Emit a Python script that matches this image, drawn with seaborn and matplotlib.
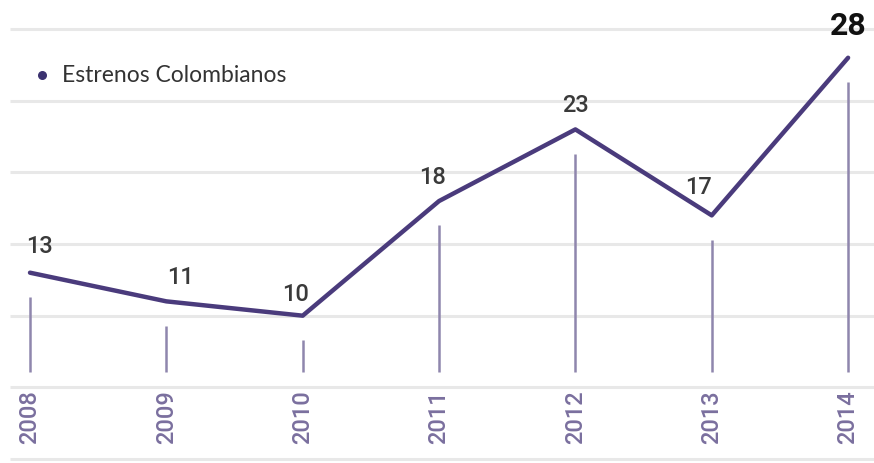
import matplotlib
matplotlib.use("Agg")
import matplotlib.pyplot as plt
import seaborn as sns
import pandas as pd

years = [2008, 2009, 2010, 2011, 2012, 2013, 2014]
estrenos = [13, 11, 10, 18, 23, 17, 28]
series_name = "Estrenos Colombianos"
grid_values = [0, 5, 10, 15, 20, 25, 30]

df = pd.DataFrame({"year": years, "value": estrenos})

sns.set_theme(style="white")
plt.rcParams["font.family"] = ["Roboto", "DejaVu Sans"]

fig = plt.figure(figsize=(8.74, 4.64), dpi=100)
ax = fig.add_axes([0, 0, 1, 1])

ax.set_xlim(2007.78, 2014.19)
ax.set_ylim(-0.28, 32.1)

# gridlines
ax.hlines(grid_values, 2007.85, 2014.19, color="#e8e8e8", lw=2.2, zorder=0)

# vertical drop lines
line_color = "#8f86ad"
for x, v in zip(years, estrenos):
    ax.vlines(x, 6.1, v - 1.7, color=line_color, lw=1.8, zorder=1)

sns.lineplot(data=df, x="year", y="value", ax=ax, color="#4a3b7c", lw=3.2,
             zorder=3, legend=False)

# value labels
offsets = [(10, 27), (14, 25), (-7, 22), (-6, 25), (0, 25), (-13, 29), (0, 33)]
for (x, v), (dx, dy) in zip(zip(years, estrenos), offsets):
    last = v == max(estrenos)
    ax.annotate(str(v), (x, v), xytext=(dx, dy), textcoords="offset pixels",
                ha="center", va="center",
                fontsize=23 if last else 17,
                fontweight="bold" if last else "medium",
                color="#111111" if last else "#3a3a3a", zorder=5)

# year labels
for x in years:
    ax.text(x, 3.0, str(x), rotation=90, ha="center", va="center",
            fontsize=17, fontweight="medium", color="#7a6f9e")

# legend
ax.scatter([2008.09], [26.8], s=30, color="#3b3270", zorder=5)
ax.text(2008.235, 26.8, series_name, ha="left", va="center", fontsize=16.5,
        color="#333333", family=["Lato", "DejaVu Sans"])

ax.set_axis_off()
fig.savefig("out.png", dpi=100)
